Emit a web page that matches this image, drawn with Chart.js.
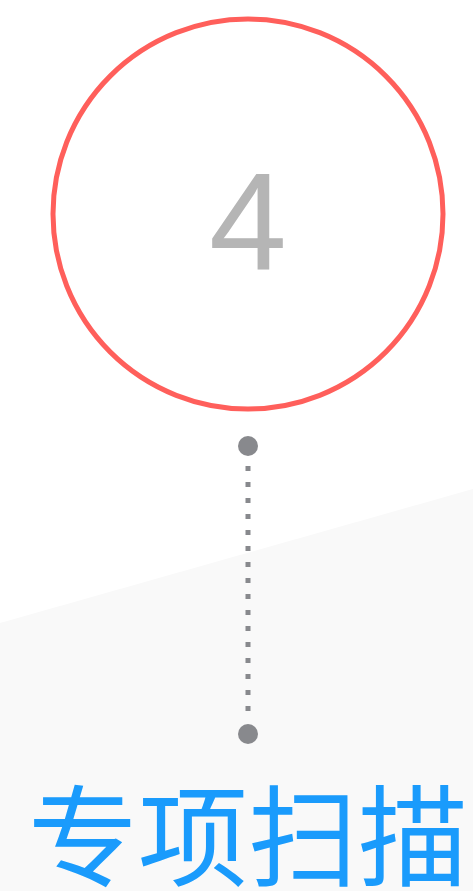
<!DOCTYPE html>
<html><head><meta charset="utf-8">
<script src="https://cdn.jsdelivr.net/npm/chart.js@4"></script>
<style>html,body{margin:0;padding:0;background:#fff;overflow:hidden}canvas{display:block}</style>
</head><body>
<canvas id="c" width="473" height="891"></canvas>
<script>
const stepNumber = "4";
const stepTitle = "专项扫描";
const bandPoints = [{x:0,y:623},{x:473,y:489}];
const ringCenter = [{x:248,y:214}];
const connectorPoints = [{x:248,y:466},{x:248,y:722}];
const endDots = [{x:248,y:446},{x:248,y:734}];

const textPlugin = {
  id:'txt',
  afterDatasetsDraw(chart){
    const ctx = chart.ctx, xs = chart.scales.x, ys = chart.scales.y;
    ctx.save();
    ctx.textAlign='center';
    ctx.textBaseline='alphabetic';
    ctx.fillStyle='#b5b5b5';
    ctx.font='140px "Liberation Sans", Arial, sans-serif';
    ctx.fillText(stepNumber, xs.getPixelForValue(248), ys.getPixelForValue(270));
    ctx.fillStyle='#1a9bfc';
    ctx.font='110px "Noto Sans CJK SC", sans-serif';
    ctx.textBaseline='middle';
    ctx.fillText(stepTitle, xs.getPixelForValue(248), ys.getPixelForValue(836));
    ctx.restore();
  }
};

new Chart(document.getElementById('c'), {
  type:'scatter',
  data:{datasets:[
    {data:endDots, pointRadius:10, pointBackgroundColor:'#88898d', pointBorderWidth:0, showLine:false, clip:false},
    {data:connectorPoints, showLine:true, borderColor:'#88898d', borderWidth:5, borderDash:[5,11], borderCapStyle:'butt', pointRadius:0, clip:false},
    {data:ringCenter, pointRadius:195, pointBorderWidth:5, pointBorderColor:'#ff5f5b', pointBackgroundColor:'rgba(0,0,0,0)', showLine:false, clip:false},
    {data:bandPoints, showLine:true, borderWidth:0, borderColor:'rgba(0,0,0,0)', backgroundColor:'#f9f9f9', fill:'start', pointRadius:0, clip:false}
  ]},
  options:{
    responsive:false, animation:false, events:[],
    layout:{padding:0, autoPadding:false},
    plugins:{legend:{display:false}, tooltip:{enabled:false}},
    scales:{
      x:{type:'linear', min:0, max:473, display:false},
      y:{type:'linear', min:0, max:891, reverse:true, display:false}
    }
  },
  plugins:[textPlugin]
});
</script>
</body></html>
